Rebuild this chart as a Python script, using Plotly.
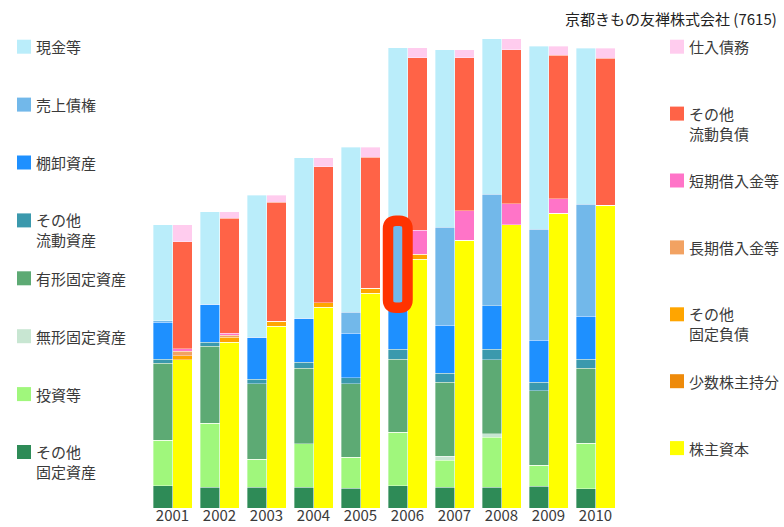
import plotly.graph_objects as go

years = ["2001", "2002", "2003", "2004", "2005", "2006", "2007", "2008", "2009", "2010"]

# 資産の部 (積み上げ順: 下 → 上)
sonota_kotei = [22.3, 21.0, 21.0, 21.0, 20.0, 22.3, 21.0, 21.0, 21.6, 19.3]
toushi = [45.3, 64.0, 28.0, 43.3, 30.6, 53.3, 26.6, 50.0, 21.4, 45.7]
mukei = [0, 0, 0, 0, 0, 0, 4.0, 3.3, 0, 0]
yukei = [77.2, 76.6, 75.3, 75.3, 73.7, 73.4, 74.0, 74.0, 74.3, 74.6]
sonota_ryudo = [4.2, 4.4, 4.7, 6.4, 6.0, 10.0, 9.0, 10.7, 8.7, 9.4]
tanaoroshi = [36.6, 38.0, 41.6, 43.6, 44.3, 41.3, 48.0, 43.3, 41.6, 42.6]
uriage = [1.5, 0, 0, 0, 21.0, 87.0, 98.4, 111.3, 111.4, 112.0]
genkin = [96.0, 92.3, 142.0, 160.7, 165.0, 173.0, 177.3, 155.7, 182.6, 156.0]

# 負債・純資産の部 (積み上げ順: 下 → 上)
kabunushi = [148.3, 166.0, 181.6, 201.0, 215.0, 249.0, 267.6, 283.3, 295.0, 302.6]
shosu = [0, 0, 0, 0, 0, 0, 0, 0, 0, 0]
sonota_kotei_fusai = [4.0, 5.0, 5.4, 4.3, 5.0, 5.0, 0, 0, 0, 0]
choki = [4.7, 2.0, 0, 0, 0, 0, 0, 0, 0, 0]
tanki = [2.3, 2.0, 0, 0, 0, 24.0, 29.7, 21.0, 14.3, 0]
sonota_ryudo_fusai = [107.0, 115.0, 118.6, 136.0, 131.0, 172.3, 153.0, 154.0, 143.3, 147.4]
shiire = [17.0, 6.3, 7.0, 9.0, 9.6, 10.0, 8.0, 11.0, 9.0, 9.6]

assets = [
    ("その他<br>固定資産", sonota_kotei, "#2E8B57"),
    ("投資等", toushi, "#A0F77C"),
    ("無形固定資産", mukei, "#C8E6D2"),
    ("有形固定資産", yukei, "#5DAA74"),
    ("その他<br>流動資産", sonota_ryudo, "#3B99AD"),
    ("棚卸資産", tanaoroshi, "#1E90FF"),
    ("売上債権", uriage, "#72B8EA"),
    ("現金等", genkin, "#BAEDFA"),
]
liabilities = [
    ("株主資本", kabunushi, "#FFFF00"),
    ("少数株主持分", shosu, "#EE8A0A"),
    ("その他<br>固定負債", sonota_kotei_fusai, "#FFA500"),
    ("長期借入金等", choki, "#F2A262"),
    ("短期借入金等", tanki, "#FF74C8"),
    ("その他<br>流動負債", sonota_ryudo_fusai, "#FF6347"),
    ("仕入債務", shiire, "#FFCCEE"),
]

FONT = "Noto Sans CJK JP, Noto Sans, sans-serif"
TEXT_COLOR = "#3a3a3a"

W, H = 784, 527
M_L, M_R, M_T, M_B = 149, 165, 28, 19
PLOT_W = W - M_L - M_R
PLOT_H = H - M_T - M_B

BAR_W = 0.415
idx = list(range(len(years)))
x_assets = [i - BAR_W / 2 for i in idx]
x_liab = [i + BAR_W / 2 for i in idx]

fig = go.Figure()
edge = dict(color="rgba(255,255,255,0.45)", width=0.8)
for name, vals, color in assets:
    fig.add_trace(go.Bar(x=x_assets, y=vals, width=BAR_W, name=name,
                         marker=dict(color=color, line=edge), showlegend=False))
for name, vals, color in liabilities:
    fig.add_trace(go.Bar(x=x_liab, y=vals, width=BAR_W, name=name,
                         marker=dict(color=color, line=edge), showlegend=False))


def px_x(p):
    return (p - M_L) / PLOT_W


def px_y(p):
    return (H - M_B - p) / PLOT_H


shapes = []
annotations = []


def legend_column(items, sq_x, first_y, step):
    for k, (name, _, color) in enumerate(items):
        cy = first_y + k * step
        shapes.append(dict(type="rect", xref="paper", yref="paper",
                           x0=px_x(sq_x), x1=px_x(sq_x + 14),
                           y0=px_y(cy + 7), y1=px_y(cy - 7),
                           fillcolor=color, line=dict(width=0)))
        lines = name.count("<br>") + 1
        annotations.append(dict(xref="paper", yref="paper",
                                x=px_x(sq_x + 17), y=px_y(cy + (lines - 1) * 9.5),
                                xanchor="left", yanchor="middle", align="left",
                                text=name, showarrow=False,
                                font=dict(family=FONT, size=15, color=TEXT_COLOR)))


legend_column(list(reversed(assets)), 17, 46.7, 57.9)
legend_column(list(reversed(liabilities)), 670, 46.7, 66.9)

# 2006年の売上債権を囲む強調枠
k = years.index("2006")
y_lo = sum(v[k] for _, v, _ in assets[:6])
y_hi = y_lo + uriage[k]
x_lo = k - BAR_W
x_hi = k
rx = 8 / (PLOT_W / 10)
ry = 8 / (PLOT_H / 480)
path = (f"M {x_lo + rx},{y_hi} L {x_hi - rx},{y_hi} Q {x_hi},{y_hi} {x_hi},{y_hi - ry} "
        f"L {x_hi},{y_lo + ry} Q {x_hi},{y_lo} {x_hi - rx},{y_lo} "
        f"L {x_lo + rx},{y_lo} Q {x_lo},{y_lo} {x_lo},{y_lo + ry} "
        f"L {x_lo},{y_hi - ry} Q {x_lo},{y_hi} {x_lo + rx},{y_hi} Z")
shapes.append(dict(type="path", xref="x", yref="y", path=path,
                   line=dict(color="#FF3300", width=10.5), layer="above"))

annotations.append(dict(xref="paper", yref="paper", x=px_x(779), y=px_y(18),
                        xanchor="right", yanchor="middle",
                        text="京都きもの友禅株式会社 (7615)", showarrow=False,
                        font=dict(family=FONT, size=15, color="#222222")))

fig.update_layout(
    width=W, height=H,
    margin=dict(l=M_L, r=M_R, t=M_T, b=M_B, autoexpand=False),
    barmode="stack",
    paper_bgcolor="white", plot_bgcolor="white",
    shapes=shapes, annotations=annotations,
    xaxis=dict(range=[-0.5, 9.5], tickvals=idx, ticktext=years,
               showgrid=False, zeroline=False, showline=False, ticks="",
               ticklabelstandoff=-3,
               tickfont=dict(family=FONT, size=15, color=TEXT_COLOR)),
    yaxis=dict(range=[0, 480], visible=False),
    font=dict(family=FONT),
)

fig.write_html("out.html")
